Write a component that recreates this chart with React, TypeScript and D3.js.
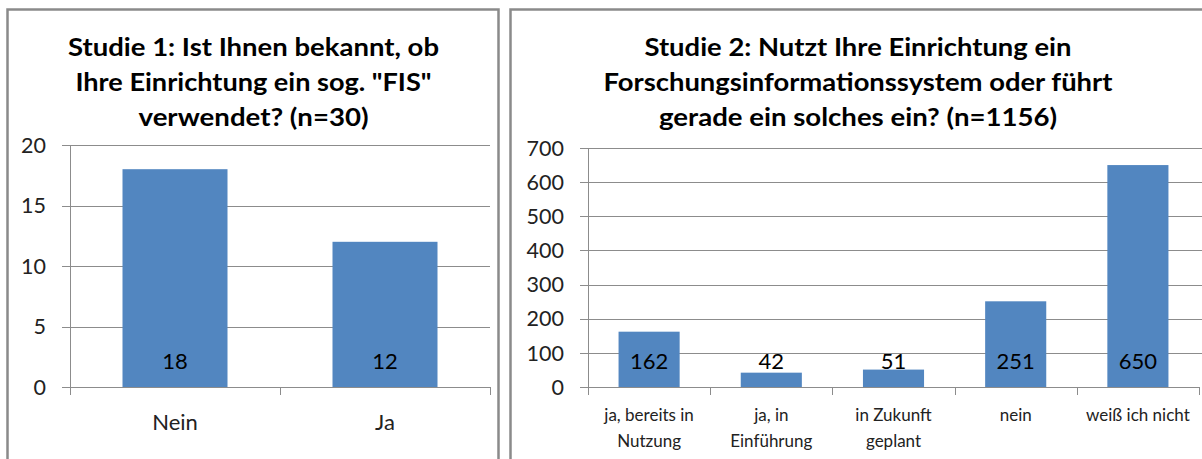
import React from "react";
import * as d3 from "d3";

const categories1 = ["Nein", "Ja"];
const values1 = [18, 12];
const ticks1 = [0, 5, 10, 15, 20];
const title1 = ["Studie 1: Ist Ihnen bekannt, ob", 'Ihre Einrichtung ein sog. "FIS"', "verwendet? (n=30)"];

const categories2 = ["ja, bereits in|Nutzung", "ja, in|Einführung", "in Zukunft|geplant", "nein", "weiß ich nicht"];
const values2 = [162, 42, 51, 251, 650];
const ticks2 = [0, 100, 200, 300, 400, 500, 600, 700];
const title2 = [
  "Studie 2: Nutzt Ihre Einrichtung ein",
  "Forschungsinformationssystem oder führt",
  "gerade ein solches ein? (n=1156)",
];

const FONT = "Lato, 'Open Sans', sans-serif";
const BAR = "#5286C0";
const GRID = "#8c8c8c";

type PanelProps = {
  cats: string[];
  vals: number[];
  ticks: number[];
  title: string[];
  titleWidths: number[];
  titleCx: number;
  x0: number;
  x1: number;
  yMax: number;
  yTop: number;
  gridLeft: number;
  gridRight: number;
  tickLabelRight: number;
  xLabelSize: number;
  xLabelY: number[];
};

function Panel(p: PanelProps) {
  const yBase = 387;
  const y = d3.scaleLinear().domain([0, p.yMax]).range([yBase, p.yTop]);
  const x = d3.scaleBand<string>().domain(p.cats).range([p.x0, p.x1]).paddingInner(0.5).paddingOuter(0.25);
  const step = x.step();
  const titleY = [56, 91, 126];
  return (
    <g>
      {p.title.map((t, i) => (
        <text
          key={i}
          x={p.titleCx}
          y={titleY[i]}
          textAnchor="middle"
          fontFamily={FONT}
          fontWeight="bold"
          fontSize={24}
          fill="#000"
          textLength={p.titleWidths[i]}
          lengthAdjust="spacingAndGlyphs"
        >
          {t}
        </text>
      ))}
      {p.ticks.map((t) => (
        <g key={t}>
          <line
            x1={p.gridLeft}
            x2={t === 0 ? p.x1 : p.gridRight}
            y1={Math.round(y(t)) + 0.5}
            y2={Math.round(y(t)) + 0.5}
            stroke={GRID}
            strokeWidth={1}
          />
          <text
            x={p.tickLabelRight}
            y={y(t)}
            dy="0.36em"
            textAnchor="end"
            fontFamily={FONT}
            fontSize={21.5}
            fill="#222"
          >
            {t}
          </text>
        </g>
      ))}
      <line x1={p.x0 + 0.5} x2={p.x0 + 0.5} y1={y(p.yMax)} y2={yBase + 8} stroke={GRID} strokeWidth={1} />
      {d3.range(1, p.cats.length + 1).map((i) => (
        <line
          key={i}
          x1={Math.round(p.x0 + i * step) + 0.5}
          x2={Math.round(p.x0 + i * step) + 0.5}
          y1={yBase}
          y2={yBase + 8}
          stroke={GRID}
          strokeWidth={1}
        />
      ))}
      {p.cats.map((c, i) => (
        <rect key={c} x={x(c)} y={y(p.vals[i])} width={x.bandwidth()} height={yBase - y(p.vals[i])} fill={BAR} />
      ))}
      {p.cats.map((c, i) => (
        <text
          key={c}
          x={(x(c) as number) + x.bandwidth() / 2}
          y={369}
          textAnchor="middle"
          fontFamily={FONT}
          fontSize={22}
          fill="#000"
        >
          {p.vals[i]}
        </text>
      ))}
      {p.cats.map((c) => (
        <text
          key={c}
          x={(x(c) as number) + x.bandwidth() / 2}
          textAnchor="middle"
          fontFamily={FONT}
          fontSize={p.xLabelSize}
          fill="#222"
        >
          {c.split("|").map((l, j) => (
            <tspan key={j} x={(x(c) as number) + x.bandwidth() / 2} y={p.xLabelY[j]}>
              {l}
            </tspan>
          ))}
        </text>
      ))}
    </g>
  );
}

export default function App() {
  return (
    <svg
      width={1202}
      height={459}
      style={{ position: "absolute", left: 0, top: 0, background: "#fff" }}
    >
      <rect x={0} y={0} width={1202} height={459} fill="#fff" />
      <rect x={7.5} y={9.5} width={491} height={470} fill="#fff" stroke="#8a8a8a" strokeWidth={2.5} />
      <rect x={510.5} y={9.5} width={720} height={470} fill="#fff" stroke="#8a8a8a" strokeWidth={2.5} />
      <Panel
        cats={categories1}
        vals={values1}
        ticks={ticks1}
        title={title1}
        titleWidths={[371, 356, 230]}
        titleCx={253.5}
        x0={70}
        x1={490}
        yMax={20}
        yTop={145}
        gridLeft={62}
        gridRight={490}
        tickLabelRight={46}
        xLabelSize={22}
        xLabelY={[430]}
      />
      <Panel
        cats={categories2}
        vals={values2}
        ticks={ticks2}
        title={title2}
        titleWidths={[427, 509, 398]}
        titleCx={858}
        x0={588}
        x1={1199}
        yMax={700}
        yTop={148}
        gridLeft={580}
        gridRight={1202}
        tickLabelRight={564}
        xLabelSize={17}
        xLabelY={[421, 447]}
      />
    </svg>
  );
}
